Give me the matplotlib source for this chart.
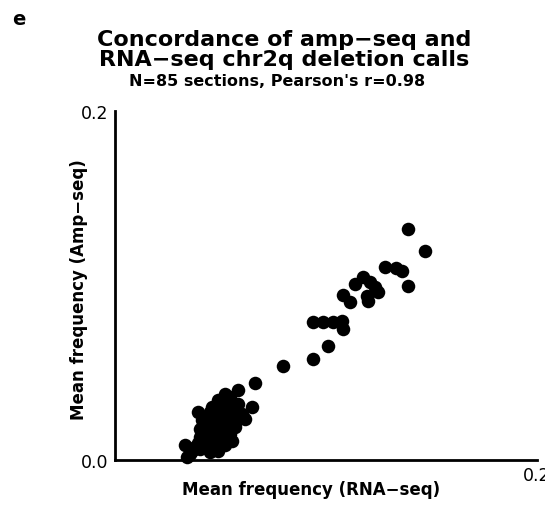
import matplotlib

matplotlib.use("Agg")

import matplotlib.pyplot as plt

PANEL_LETTER = "e"
TITLE_LINES = ["Concordance of amp\u2212seq and", "RNA\u2212seq chr2q deletion calls"]
SUBTITLE = "N=85 sections, Pearson's r=0.98"
X_LABEL = "Mean frequency (RNA\u2212seq)"
Y_LABEL = "Mean frequency (Amp\u2212seq)"

X_TICKS = [0.2]
X_TICK_LABELS = ["0.2"]
Y_TICKS = [0.0, 0.2]
Y_TICK_LABELS = ["0.0", "0.2"]

# mean deletion frequency per section, RNA-seq (x) vs amp-seq (y)
rna_freq = [
    0.1389, 0.1469, 0.1280, 0.1332, 0.1360, 0.1389, 0.1175, 0.1137, 0.1209, 0.1232,
    0.1246, 0.1194, 0.1199, 0.1081, 0.1114, 0.0938, 0.0986, 0.1033, 0.1076, 0.1081,
    0.1009, 0.0938, 0.0796, 0.0664,
    0.0583, 0.0521, 0.0488, 0.0545, 0.0649, 0.0602, 0.0616, 0.0393, 0.0450, 0.0403,
    0.0412, 0.0460, 0.0507, 0.0555, 0.0569, 0.0521, 0.0521, 0.0474, 0.0427, 0.0332,
    0.0341, 0.0379, 0.0441, 0.0488, 0.0536, 0.0474, 0.0436,
    0.0498, 0.0536, 0.0507, 0.0555, 0.0474, 0.0526, 0.0573, 0.0427, 0.0474, 0.0517,
    0.0545, 0.0450, 0.0498, 0.0403, 0.0460, 0.0498, 0.0365, 0.0403, 0.0441, 0.0488,
    0.0526, 0.0469, 0.0422, 0.0545, 0.0488, 0.0583, 0.0460, 0.0507, 0.0450, 0.0393,
    0.0479, 0.0555, 0.0431, 0.0355,
]
amp_freq = [
    0.1324, 0.1198, 0.1106, 0.1100, 0.1083, 0.0997, 0.1049, 0.1009, 0.1020, 0.0991,
    0.0963, 0.0940, 0.0911, 0.0946, 0.0905, 0.0791, 0.0791, 0.0791, 0.0797, 0.0751,
    0.0653, 0.0579, 0.0539, 0.0441,
    0.0401, 0.0378, 0.0344, 0.0361, 0.0304, 0.0264, 0.0235, 0.0275, 0.0275, 0.0178,
    0.0229, 0.0229, 0.0229, 0.0246, 0.0189, 0.0132, 0.0086, 0.0074, 0.0103, 0.0086,
    0.0017, 0.0074, 0.0172, 0.0172, 0.0178, 0.0120, 0.0143,
    0.0304, 0.0321, 0.0281, 0.0292, 0.0252, 0.0264, 0.0223, 0.0201, 0.0201, 0.0201,
    0.0149, 0.0143, 0.0143, 0.0132, 0.0097, 0.0103, 0.0052, 0.0063, 0.0074, 0.0052,
    0.0120, 0.0166, 0.0166, 0.0212, 0.0246, 0.0321, 0.0304, 0.0166, 0.0046, 0.0097,
    0.0212, 0.0109, 0.0246, 0.0034,
]

W, H = 545, 506


def fx(px):
    return px / W


def fy(py):
    return 1 - py / H


def main() -> None:
    plt.rcParams.update(
        {
            "font.family": "DejaVu Sans",
            "axes.spines.top": False,
            "axes.spines.right": False,
        }
    )

    fig = plt.figure(figsize=(W / 100, H / 100), dpi=100)
    ax = fig.add_axes([fx(115), fy(461), fx(537) - fx(115), fy(112) - fy(461)])

    ax.scatter(rna_freq, amp_freq, s=95, color="black", linewidths=0, clip_on=False, zorder=3)

    ax.set_xlim(0, 0.2)
    ax.set_ylim(0, 0.2)
    ax.set_xticks(X_TICKS, X_TICK_LABELS)
    ax.set_yticks(Y_TICKS, Y_TICK_LABELS)
    ax.tick_params(axis="both", length=0, labelsize=12.5, colors="black")
    ax.tick_params(axis="y", pad=5)
    ax.tick_params(axis="x", pad=4)
    for side in ("left", "bottom"):
        ax.spines[side].set_linewidth(2.0)
        ax.spines[side].set_color("black")

    ax.set_xlabel(X_LABEL, fontsize=12, fontweight="bold")
    ax.xaxis.set_label_coords(0.465, -0.058)
    ax.set_ylabel(Y_LABEL, fontsize=12, fontweight="bold")
    ax.yaxis.set_label_coords(-0.064, 0.49)

    fig.text(fx(12), fy(25), PANEL_LETTER, fontsize=14, fontweight="bold", va="baseline", ha="left")
    for line, base in zip(TITLE_LINES, (46, 66)):
        fig.text(fx(284), fy(base), line, fontsize=16, fontweight="bold", va="baseline", ha="center")
    fig.text(fx(277), fy(86), SUBTITLE, fontsize=11.5, fontweight="bold", va="baseline", ha="center")

    fig.savefig("out.png", dpi=100)
    plt.close(fig)


if __name__ == "__main__":
    main()
